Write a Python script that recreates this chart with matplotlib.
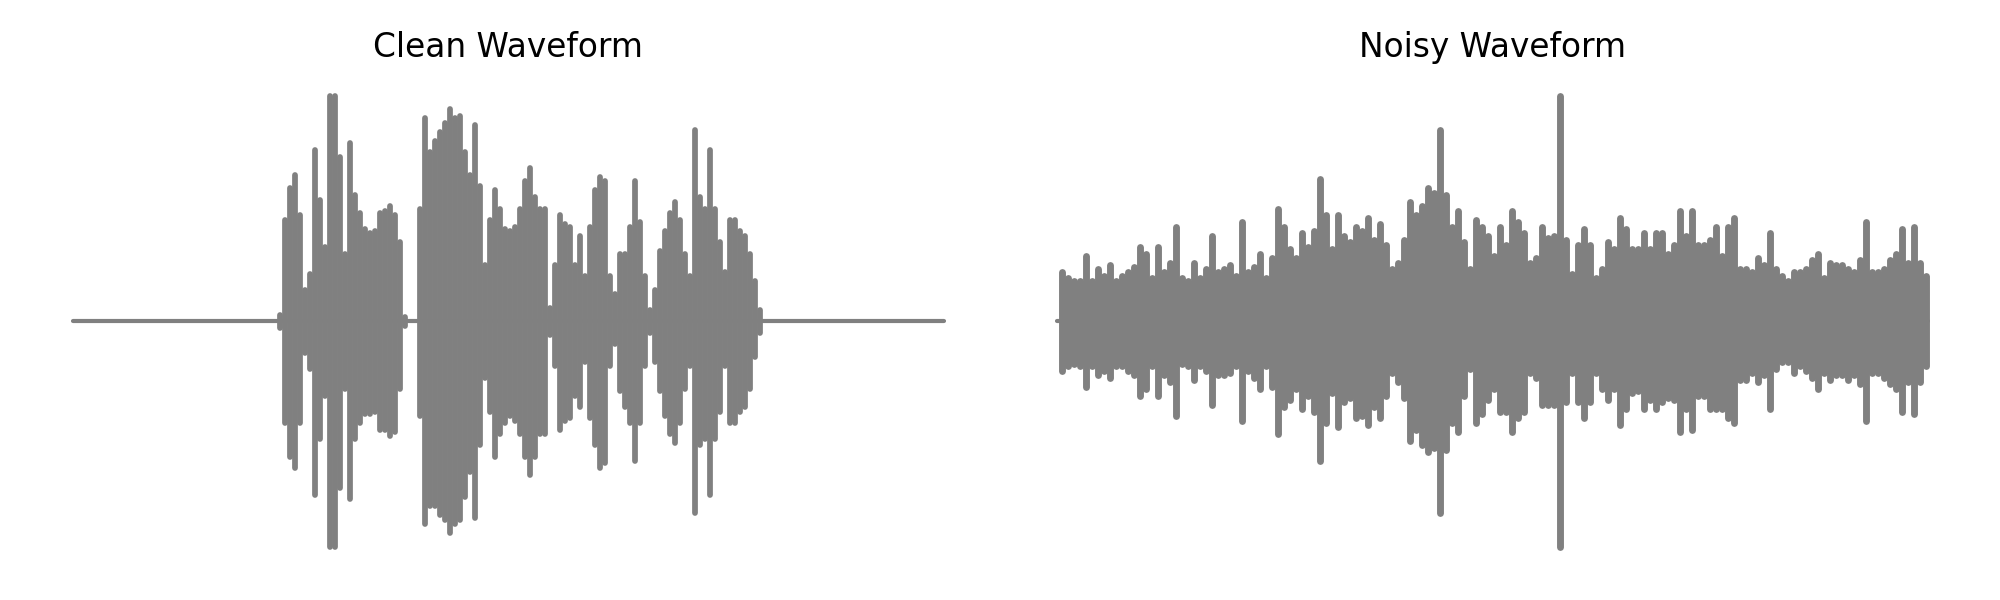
"""Side-by-side waveform plot: clean speech vs. the same utterance with added noise."""

import matplotlib
matplotlib.use("Agg")
import matplotlib.pyplot as plt
import numpy as np

DURATION = 4.0  # seconds shown on each panel

# Clean waveform: silence, then speech between these times (s), then silence.
CLEAN_SPEECH = (0.951, 3.155)
# peak envelope (normalised amplitude) read per short frame across the speech part
CLEAN_UPPER = [
    0.03, 0.45, 0.59, 0.65, 0.47, 0.14, 0.21, 0.76, 0.54, 0.33,
    1.00, 1.00, 0.73, 0.30, 0.79, 0.56, 0.48, 0.41, 0.39, 0.40,
    0.48, 0.49, 0.51, 0.47, 0.35, 0.02, 0.00, 0.00, 0.50, 0.90,
    0.75, 0.80, 0.84, 0.88, 0.94, 0.90, 0.91, 0.75, 0.65, 0.87,
    0.60, 0.25, 0.45, 0.58, 0.50, 0.41, 0.40, 0.42, 0.50, 0.62,
    0.68, 0.55, 0.50, 0.50, 0.06, 0.25, 0.47, 0.43, 0.42, 0.25,
    0.38, 0.20, 0.42, 0.58, 0.64, 0.62, 0.20, 0.12, 0.30, 0.30,
    0.42, 0.62, 0.44, 0.20, 0.05, 0.14, 0.31, 0.40, 0.48, 0.53,
    0.45, 0.30, 0.20, 0.85, 0.55, 0.50, 0.76, 0.50, 0.35, 0.22,
    0.45, 0.45, 0.40, 0.38, 0.30, 0.18, 0.05,
]
CLEAN_LOWER = [
    -0.03, -0.45, -0.60, -0.65, -0.45, -0.14, -0.21, -0.77, -0.52, -0.33,
    -1.00, -1.00, -0.74, -0.30, -0.79, -0.52, -0.45, -0.41, -0.41, -0.40,
    -0.48, -0.48, -0.51, -0.49, -0.30, -0.02, 0.00, 0.00, -0.42, -0.90,
    -0.82, -0.82, -0.86, -0.88, -0.94, -0.90, -0.88, -0.78, -0.67, -0.87,
    -0.55, -0.25, -0.40, -0.60, -0.50, -0.45, -0.42, -0.44, -0.50, -0.60,
    -0.68, -0.60, -0.50, -0.50, -0.06, -0.20, -0.48, -0.44, -0.43, -0.33,
    -0.38, -0.18, -0.43, -0.55, -0.65, -0.63, -0.20, -0.10, -0.31, -0.38,
    -0.45, -0.62, -0.45, -0.20, -0.05, -0.18, -0.31, -0.42, -0.50, -0.54,
    -0.45, -0.30, -0.20, -0.85, -0.55, -0.52, -0.77, -0.52, -0.40, -0.20,
    -0.45, -0.45, -0.40, -0.38, -0.30, -0.16, -0.05,
]

# Noisy waveform: active over nearly the whole clip.
NOISY_SPAN = (0.023, 3.991)
NOISY_UPPER = [
    0.22, 0.19, 0.18, 0.18, 0.29, 0.18, 0.23, 0.20, 0.25, 0.18,
    0.20, 0.22, 0.24, 0.33, 0.30, 0.19, 0.33, 0.22, 0.26, 0.42,
    0.19, 0.18, 0.26, 0.19, 0.23, 0.38, 0.22, 0.23, 0.25, 0.20,
    0.44, 0.22, 0.24, 0.30, 0.19, 0.28, 0.50, 0.42, 0.32, 0.28,
    0.39, 0.33, 0.40, 0.63, 0.47, 0.32, 0.47, 0.38, 0.35, 0.42,
    0.40, 0.46, 0.36, 0.43, 0.34, 0.23, 0.26, 0.36, 0.53, 0.47,
    0.51, 0.59, 0.57, 0.85, 0.56, 0.42, 0.49, 0.35, 0.23, 0.45,
    0.42, 0.38, 0.29, 0.42, 0.34, 0.49, 0.44, 0.39, 0.26, 0.28,
    0.42, 0.37, 0.38, 1.00, 0.36, 0.21, 0.34, 0.41, 0.34, 0.19,
    0.23, 0.35, 0.32, 0.46, 0.41, 0.32, 0.32, 0.39, 0.32, 0.39,
    0.39, 0.30, 0.34, 0.49, 0.38, 0.49, 0.34, 0.34, 0.36, 0.42,
    0.29, 0.42, 0.46, 0.23, 0.23, 0.22, 0.28, 0.25, 0.39, 0.23,
    0.20, 0.18, 0.22, 0.22, 0.23, 0.27, 0.30, 0.19, 0.26, 0.25,
    0.25, 0.23, 0.22, 0.27, 0.44, 0.22, 0.22, 0.23, 0.27, 0.30,
    0.41, 0.26, 0.42, 0.26, 0.20,
]
NOISY_LOWER = [
    -0.22, -0.20, -0.19, -0.20, -0.29, -0.20, -0.24, -0.22, -0.25, -0.20,
    -0.20, -0.22, -0.24, -0.33, -0.30, -0.20, -0.33, -0.24, -0.27, -0.42,
    -0.19, -0.20, -0.26, -0.20, -0.22, -0.37, -0.24, -0.24, -0.23, -0.20,
    -0.44, -0.22, -0.25, -0.30, -0.20, -0.29, -0.50, -0.38, -0.35, -0.30,
    -0.39, -0.33, -0.40, -0.62, -0.45, -0.32, -0.47, -0.36, -0.34, -0.43,
    -0.42, -0.46, -0.38, -0.43, -0.33, -0.23, -0.27, -0.34, -0.53, -0.48,
    -0.55, -0.58, -0.56, -0.85, -0.57, -0.45, -0.49, -0.33, -0.21, -0.45,
    -0.41, -0.35, -0.30, -0.40, -0.40, -0.49, -0.43, -0.40, -0.23, -0.25,
    -0.37, -0.37, -0.37, -1.00, -0.36, -0.23, -0.36, -0.43, -0.36, -0.23,
    -0.30, -0.35, -0.30, -0.46, -0.39, -0.32, -0.31, -0.39, -0.35, -0.39,
    -0.36, -0.34, -0.35, -0.49, -0.39, -0.48, -0.33, -0.33, -0.39, -0.39,
    -0.39, -0.43, -0.45, -0.26, -0.26, -0.23, -0.27, -0.24, -0.39, -0.21,
    -0.18, -0.18, -0.23, -0.20, -0.22, -0.25, -0.30, -0.23, -0.26, -0.24,
    -0.24, -0.26, -0.24, -0.28, -0.44, -0.23, -0.23, -0.25, -0.28, -0.30,
    -0.40, -0.27, -0.41, -0.27, -0.20,
]

WAVE_COLOR = "gray"


def draw_wave(ax, span, upper, lower, title):
    t = np.linspace(span[0], span[1], len(upper))
    ax.set_xlim(-0.05 * DURATION, 1.05 * DURATION)
    ax.set_ylim(-1.1, 1.1)

    # stroke width = one frame on screen (a bit more so neighbours overlap)
    x0, x1 = ax.transData.transform([(t[0], 0), (t[1], 0)])[:, 0]
    lw = 1.15 * (x1 - x0) * 72.0 / ax.figure.dpi

    # flat zero line under the whole clip (visible in the silent parts)
    ax.plot([0, DURATION], [0, 0], color=WAVE_COLOR, lw=1.5,
            solid_capstyle="round")
    strokes = ax.vlines(t, lower, upper, color=WAVE_COLOR, lw=lw)
    strokes.set_capstyle("round")
    ax.set_title(title, fontsize=11.8)
    ax.axis("off")


def main() -> None:
    fig, axes = plt.subplots(1, 2, figsize=(10, 3), dpi=200)
    fig.subplots_adjust(left=0.0145, right=0.986, bottom=0.051, top=0.878,
                        wspace=0.028)

    draw_wave(axes[0], CLEAN_SPEECH, CLEAN_UPPER, CLEAN_LOWER, "Clean Waveform")
    draw_wave(axes[1], NOISY_SPAN, NOISY_UPPER, NOISY_LOWER, "Noisy Waveform")

    fig.savefig("out.png", dpi=200)


if __name__ == "__main__":
    main()
